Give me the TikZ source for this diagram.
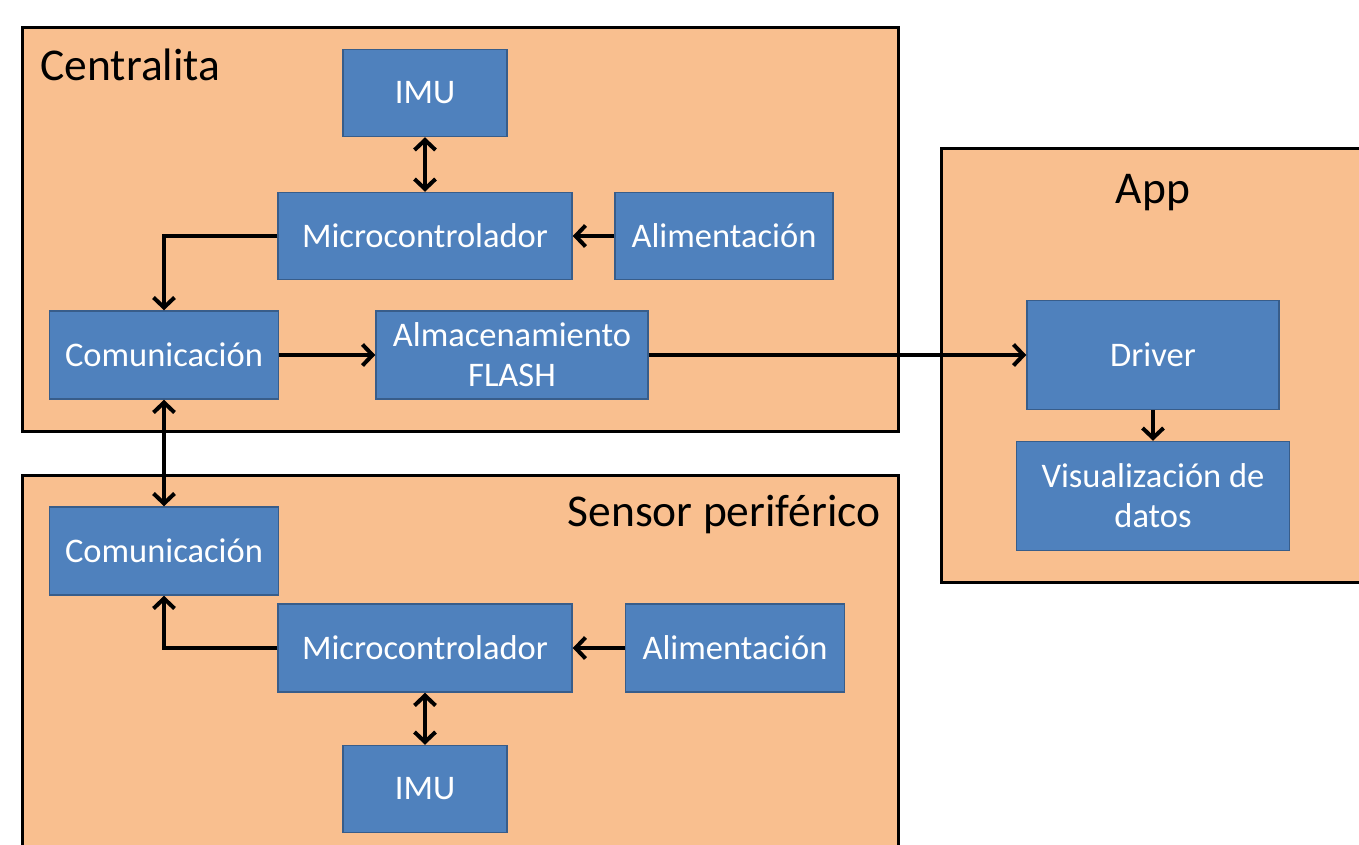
\documentclass[tikz,border=0pt]{standalone}
\usepackage{fontspec}
\setmainfont{Carlito}
\usepackage{xcolor}
\usetikzlibrary{arrows.meta,positioning}
\definecolor{panelfill}{HTML}{F9BF8F}
\definecolor{blockfill}{HTML}{4F81BD}
\definecolor{blockline}{HTML}{385D8A}

\begin{document}
\begin{tikzpicture}[x=1pt,y=-1pt,
  panel/.style={draw=black,line width=3pt,fill=panelfill},
  block/.style={draw=blockline,line width=1.5pt,fill=blockfill,text=white,align=center,
    font=\fontsize{34.5}{40}\selectfont,inner sep=0pt},
  title/.style={font=\fontsize{45.5}{50}\selectfont},
  link/.style={line width=4pt,-{Straight Barb[length=10pt,width=21pt]}},
  link2/.style={line width=4pt,{Straight Barb[length=10pt,width=21pt]}-{Straight Barb[length=10pt,width=21pt]}}]
  \useasboundingbox (0,0) rectangle (1359,844);
  \clip (0,0) rectangle (1359,844);

  \draw[panel] (22,27) rectangle (898,431);
  \draw[panel] (22,475) rectangle (898,870);
  \draw[panel] (941,148) rectangle (1380,582);

  \node[title,anchor=base west] (tcen) at (37,80) {Centralita};
  \node[title,anchor=base east] (tsen) at (884,526) {Sensor periférico};
  \node[title,anchor=base] (tapp) at (1153,203) {App};

  \node[block,minimum width=164,minimum height=87] (imuA) at (425,93) {IMU};
  \node[block,minimum width=294,minimum height=87] (mcA) at (425,236) {Microcontrolador};
  \node[block,minimum width=218,minimum height=87] (alA) at (724,236) {Alimentación};
  \node[block,minimum width=229,minimum height=88] (comA) at (164,355) {Comunicación};
  \node[block,minimum width=272,minimum height=88] (flash) at (512,355) {Almacenamiento\\FLASH};

  \node[block,minimum width=229,minimum height=88] (comB) at (164,551) {Comunicación};
  \node[block,minimum width=294,minimum height=88] (mcB) at (425,648) {Microcontrolador};
  \node[block,minimum width=219,minimum height=88] (alB) at (735,648) {Alimentación};
  \node[block,minimum width=164,minimum height=87] (imuB) at (425,789) {IMU};

  \node[block,minimum width=252,minimum height=109] (drv) at (1153,355) {Driver};
  \node[block,minimum width=273,minimum height=109] (vis) at (1153,496) {Visualización de\\datos};

  \draw[link2] (imuA.south) -- (mcA.north);
  \draw[link] (alA.west) -- (mcA.east);
  \draw[link] (mcA.west) -| (comA.north);
  \draw[link] (comA.east) -- (flash.west);
  \draw[link] (flash.east) -- (drv.west);
  \draw[link] (drv.south) -- (vis.north);
  \draw[link2] (comA.south) -- (comB.north);
  \draw[link] (mcB.west) -| (comB.south);
  \draw[link] (alB.west) -- (mcB.east);
  \draw[link2] (mcB.south) -- (imuB.north);
\end{tikzpicture}
\end{document}
